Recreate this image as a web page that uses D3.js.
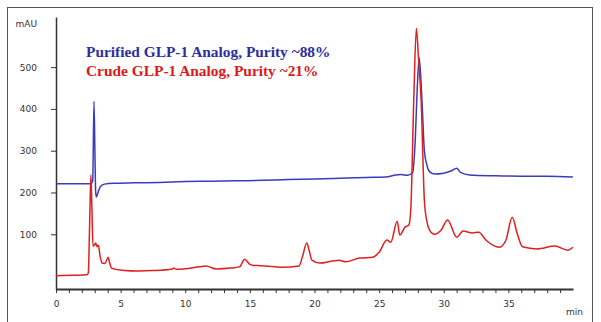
<!DOCTYPE html>
<html>
<head>
<meta charset="utf-8">
<script src="https://cdn.jsdelivr.net/npm/d3@7"></script>
<style>
  body { margin: 0; background: #fff; }
  svg { display: block; }
  .axis text { font-family: "DejaVu Sans", sans-serif; font-size: 9px; fill: #333; }
  .axis path, .axis line { stroke: #333; }
</style>
</head>
<body>
<div id="container"></div>
<script>
// retention time (min) and absorbance (mAU)
const purifiedTime = [0, 2.7, 2.84, 2.94, 3.02, 3.07, 3.13, 3.25, 3.45, 3.75, 4.5, 6, 8, 10, 12, 14, 16, 18, 20, 22, 24, 25.5, 26.3, 26.7, 27.2, 27.6, 27.8, 27.95, 28.1, 28.25, 28.35, 28.5, 28.7, 28.9, 29.3, 30.0, 30.6, 31.0, 31.3, 32, 34, 36, 38, 40];
const purifiedMAU  = [221, 221, 228, 418, 280, 200, 189, 200, 215, 220, 222, 223, 224, 226, 227, 228, 229, 231, 232, 234, 236, 237, 242, 243, 241, 248, 330, 450, 522, 460, 397, 300, 265, 250, 244, 246, 252, 258, 248, 242, 240, 239, 239, 237];

const crudeTime = [0, 1.5, 2.4, 2.5, 2.6, 2.7, 2.78, 2.86, 2.97, 3.07, 3.18, 3.28, 3.4, 3.56, 3.8, 4.03, 4.15, 4.3, 5.1, 6.4, 7.5, 9.0, 9.1, 9.3, 11.1, 11.6, 12.4, 13.5, 14.2, 14.6, 15.0, 15.2, 16.2, 17.5, 18.8, 19.1, 19.4, 19.6, 19.8, 20.4, 21.4, 21.9, 22.4, 23.5, 24.5, 25.0, 25.6, 25.9, 26.4, 26.6, 27.0, 27.3, 27.45, 27.68, 27.88, 28.05, 28.25, 28.5, 28.7, 28.9, 29.3, 29.8, 30.3, 31.0, 31.5, 32.2, 32.7, 33.3, 34.3, 34.8, 35.3, 35.7, 36.1, 37.2, 38.6, 39.6, 40.0];
const crudeMAU  = [1, 2, 3, 8, 120, 242, 160, 72, 74, 79, 70, 74, 50, 31, 30, 45, 32, 19, 14, 12, 13, 17, 19, 16, 22, 24, 17, 19, 22, 40, 28, 26, 24, 21, 24, 50, 79, 60, 38, 31, 36, 38, 34, 43, 45, 57, 86, 81, 131, 98, 117, 122, 160, 421, 593, 520, 421, 182, 130, 110, 100, 110, 134, 93, 108, 103, 105, 85, 69, 85, 141, 100, 70, 65, 72, 62, 69];

const xTicks = [0, 5, 10, 15, 20, 25, 30, 35];
const yTicks = [100, 200, 300, 400, 500];
const titles = ["Purified GLP-1 Analog, Purity ~88%", "Crude GLP-1 Analog, Purity ~21%"];

const w = 601;
const h = 322;

const svg = d3.select("#container")
              .append("svg")
              .attr("width", w)
              .attr("height", h);

// frame
svg.append("rect")
   .attr("x", 7.5)
   .attr("y", 7.5)
   .attr("width", 585)
   .attr("height", 330)
   .attr("fill", "none")
   .attr("stroke", "#555");

const xScale = d3.scaleLinear().domain([0, 40]).range([56, 573]);
const yScale = d3.scaleLinear().domain([-31, 620]).range([289, 17]);

// axes
const xAxis = d3.axisBottom(xScale)
                .tickValues(d3.range(0, 40))
                .tickSize(4)
                .tickSizeOuter(0)
                .tickPadding(8)
                .tickFormat(d => xTicks.includes(d) ? d : "");
svg.append("g")
   .attr("class", "axis")
   .attr("transform", `translate(0, ${yScale(-31)})`)
   .call(xAxis)
   .call(g => g.select(".domain").attr("stroke-width", 2));

const yAxis = d3.axisLeft(yScale)
                .tickValues(yTicks)
                .tickSize(5)
                .tickSizeOuter(0)
                .tickPadding(14);
svg.append("g")
   .attr("class", "axis")
   .attr("transform", `translate(${xScale(0)}, 0)`)
   .call(yAxis)
   .call(g => g.select(".domain").attr("stroke-width", 1.5));

svg.append("text")
   .attr("x", 37)
   .attr("y", 27)
   .attr("text-anchor", "end")
   .attr("font-family", "DejaVu Sans, sans-serif")
   .attr("font-size", 9)
   .attr("fill", "#333")
   .text("mAU");

svg.append("text")
   .attr("x", 566)
   .attr("y", 315)
   .attr("font-family", "DejaVu Sans, sans-serif")
   .attr("font-size", 9)
   .attr("fill", "#333")
   .text("min");

// traces
const line = d3.line()
               .x(d => xScale(d[0]))
               .y(d => yScale(d[1]))
               .curve(d3.curveMonotoneX);

svg.append("path")
   .datum(d3.zip(purifiedTime, purifiedMAU))
   .attr("fill", "none")
   .attr("stroke", "#3c3cb8")
   .attr("stroke-width", 1.5)
   .attr("d", line);

svg.append("path")
   .datum(d3.zip(crudeTime, crudeMAU))
   .attr("fill", "none")
   .attr("stroke", "#dd2020")
   .attr("stroke-width", 1.5)
   .attr("d", line);

// titles
svg.selectAll(".title")
   .data(titles)
   .enter()
   .append("text")
   .attr("class", "title")
   .attr("x", 86)
   .attr("y", (d, i) => 57 + i * 19)
   .attr("font-family", "Liberation Serif, serif")
   .attr("font-weight", "bold")
   .attr("font-size", 15.4)
   .attr("fill", (d, i) => i === 0 ? "#2e2e9e" : "#dc1818")
   .text(d => d);
</script>
</body>
</html>
